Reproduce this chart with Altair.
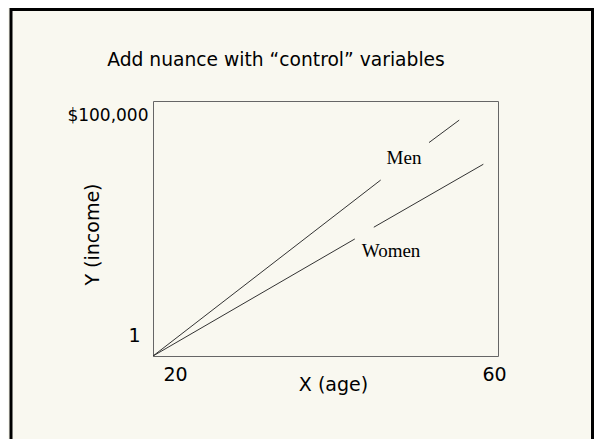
import altair as alt
import pandas as pd

title_text = "Add nuance with “control” variables"
x_title = "X (age)"
y_title = "Y (income)"
x_ticks = [20, 60]
x_tick_labels = ["20", "60"]
y_ticks = [1, 100000]
y_tick_labels = ["1", "$100,000"]

series = ["Men", "Women"]
men_age = [20, 46.4, 52.0, 55.5]
men_income = [1, 69000, 83700, 92500]
women_age = [20, 43.4, 45.6, 58.3]
women_income = [1, 45900, 50500, 75200]
label_age = [49.1, 47.6]
label_income = [77600, 41000]

rows = []
for name, ages, incs in [("Men", men_age, men_income), ("Women", women_age, women_income)]:
    for i, (a, v) in enumerate(zip(ages, incs)):
        rows.append({"series": name, "segment": f"{name}-{i // 2}", "order": i,
                     "age": a, "income": v})
lines_df = pd.DataFrame(rows)
labels_df = pd.DataFrame({"series": series, "age": label_age, "income": label_income})


def label_expr(vals, labels):
    expr = "'" + labels[-1] + "'"
    for v, l in reversed(list(zip(vals[:-1], labels[:-1]))):
        expr = f"datum.value == {v} ? '{l}' : " + expr
    return expr


FONT = "DejaVu Sans"
x_scale = alt.Scale(domain=[x_ticks[0], x_ticks[-1]], nice=False, zero=False)
y_scale = alt.Scale(domain=[y_ticks[0], y_ticks[-1]], nice=False, zero=False)
top_test = f"datum.value == {y_ticks[-1]}"

x_axis = alt.Axis(
    values=x_ticks, labelExpr=label_expr(x_ticks, x_tick_labels), title=x_title,
    domain=False, ticks=False, tickSize=0, grid=False,
    labelFont=FONT, labelFontSize=19, labelColor="black", labelPadding=18,
    labelBaseline="middle", labelAlign="center", labelFlush=False, labelOverlap=False,
    labelOffset={"condition": {"test": f"datum.value == {x_ticks[0]}", "value": 22}, "value": -4},
    titleFont=FONT, titleFontSize=19, titleFontWeight="normal", titleColor="black",
    titleX=180, titleY=28, titleAlign="center", titleBaseline="middle",
)
y_axis = alt.Axis(
    values=y_ticks, labelExpr=label_expr(y_ticks, y_tick_labels), title=y_title,
    domain=False, ticks=False, tickSize=0, grid=False,
    labelFont=FONT, labelColor="black",
    labelFontSize={"condition": {"test": top_test, "value": 17}, "value": 19},
    labelPadding={"condition": {"test": top_test, "value": 5}, "value": 13},
    labelBaseline="middle", labelAlign="right", labelFlush=False, labelOverlap=False,
    labelOffset={"condition": {"test": top_test, "value": 14}, "value": -21},
    titleFont=FONT, titleFontSize=19, titleFontWeight="normal", titleColor="black",
    titleX=-61, titleY=133, titleAlign="center", titleBaseline="middle", titleAngle=270,
)

one = pd.DataFrame({"k": [0]})
frame = alt.Chart(one).mark_rect(
    fill="transparent", stroke="black", strokeWidth=3
).encode(x=alt.value(-142), x2=alt.value(439.5), y=alt.value(-91.5), y2=alt.value(400))

title = alt.Chart(one).mark_text(
    font=FONT, fontSize=18.7, color="black", align="center", baseline="middle"
).encode(x=alt.value(123), y=alt.value(-41), text=alt.value(title_text))

lines = alt.Chart(lines_df).mark_line(color="#333333", strokeWidth=1).encode(
    x=alt.X("age:Q", scale=x_scale, axis=x_axis),
    y=alt.Y("income:Q", scale=y_scale, axis=y_axis),
    detail="segment:N",
    order="order:Q",
)

labels = alt.Chart(labels_df).mark_text(
    font="Liberation Serif", fontSize=19, color="black", align="center", baseline="middle"
).encode(
    x=alt.X("age:Q", scale=x_scale),
    y=alt.Y("income:Q", scale=y_scale),
    text="series:N",
)

chart = alt.layer(frame, title, lines, labels).properties(
    width=345, height=255,
    padding={"left": 145, "top": 93, "right": 96, "bottom": 83},
    autosize=alt.AutoSizeParams(type="none"),
    background="#f9f8f0",
).configure_view(stroke="#666666", strokeWidth=1)

chart.save("out.html", embed_options={"renderer": "svg", "actions": False})
